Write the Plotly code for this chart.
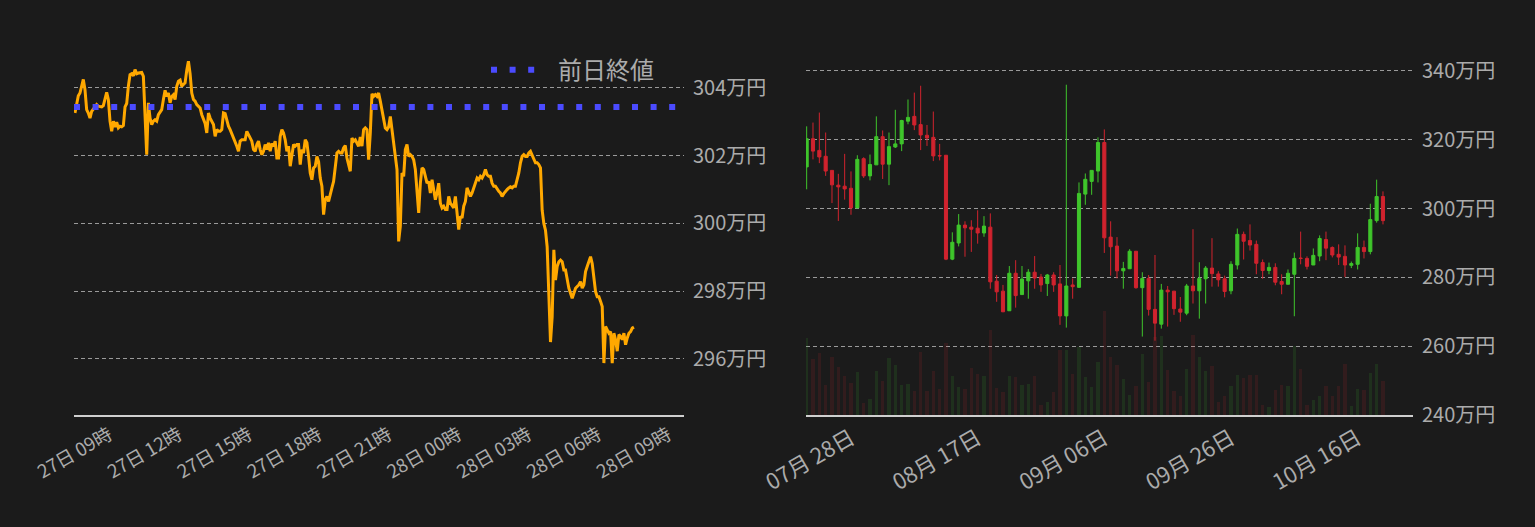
import numpy as np
import pandas as pd
import plotly.graph_objects as go

# ---------------- data ----------------
# intraday price (万円), 24h window
intraday_start = "2020-10-27 07:32"
intraday_end = "2020-10-28 07:32"
intraday_prices = [
    303.26, 303.56, 303.77, 303.85, 304.05, 304.25, 303.95, 303.36, 303.26, 303.11,
    303.31, 303.38, 303.46, 303.51, 303.46, 303.44, 303.44, 303.48, 303.66, 303.87,
    303.66, 303.02, 302.72, 303.02, 302.85, 302.99, 302.82, 302.87, 302.85, 302.89,
    303.44, 303.54, 304.05, 304.39, 304.42, 304.36, 304.54, 304.42, 304.44, 304.46,
    304.46, 304.34, 303.16, 302.03, 303.56, 303.11, 302.92, 303.02, 303.06, 303.02,
    303.21, 303.31, 303.36, 303.66, 303.93, 303.75, 303.85, 303.56, 303.75, 303.80,
    303.66, 304.05, 304.20, 304.23, 304.05, 304.10, 304.15, 304.52, 304.79, 304.42,
    303.85, 303.66, 303.61, 303.51, 303.46, 303.41, 303.21, 303.06, 302.95, 302.67,
    303.26, 303.11, 303.02, 302.92, 302.57, 302.77, 302.72, 302.72, 302.77, 303.26,
    303.24, 303.02, 302.87, 302.77, 302.65, 302.52, 302.43, 302.28, 302.13, 302.43,
    302.47, 302.47, 302.47, 302.72, 302.62, 302.52, 302.43, 302.18, 302.13, 302.33,
    302.43, 302.18, 302.03, 302.13, 302.33, 302.18, 302.38, 302.13, 302.36, 302.28,
    302.43, 301.93, 301.93, 302.57, 302.77, 302.67, 302.47, 302.13, 302.28, 301.69,
    302.08, 302.33, 302.28, 302.33, 302.33, 301.74, 302.18, 302.08, 302.47, 302.38,
    301.98, 301.49, 301.29, 301.64, 301.69, 301.98, 301.83, 301.34, 301.10, 300.26,
    300.70, 300.80, 300.65, 300.90, 301.05, 301.24, 301.59, 302.08, 302.13, 302.08,
    302.08, 302.23, 302.30, 301.93, 301.74, 301.54, 302.52, 302.43, 302.47, 302.38,
    302.28, 302.55, 302.28, 302.77, 302.82, 302.77, 301.88, 302.67, 303.83, 303.75,
    303.80, 303.75, 303.85, 303.61, 303.36, 303.16, 302.82, 302.77, 302.85, 303.16,
    302.77, 302.28, 301.98, 301.59, 299.47, 299.92, 301.49, 301.39, 302.18, 302.33,
    301.98, 302.03, 301.98, 301.88, 301.59, 300.80, 300.31, 301.19, 301.64, 301.59,
    301.34, 301.19, 301.24, 300.90, 301.29, 301.00, 300.70, 300.90, 301.19, 300.60,
    300.46, 300.51, 300.41, 300.41, 300.80, 300.60, 300.51, 300.46, 300.80, 300.31,
    299.82, 300.21, 300.16, 300.51, 300.65, 301.05, 300.90, 300.80, 300.90, 301.05,
    301.24, 301.34, 301.29, 301.39, 301.34, 301.44, 301.59, 301.44, 301.39, 301.39,
    301.19, 301.10, 301.10, 301.00, 300.95, 300.90, 300.80, 300.88, 300.95, 301.00,
    301.05, 301.08, 301.05, 301.10, 301.10, 301.29, 301.49, 301.79, 301.98, 302.03,
    301.98, 301.98, 302.08, 302.13, 302.03, 301.88, 301.79, 301.79, 301.74, 301.64,
    300.39, 300.00, 299.80, 299.31, 297.94, 296.50, 297.25, 299.22, 298.33, 298.73,
    298.87, 298.92, 298.87, 298.63, 298.63, 298.33, 298.09, 297.94, 297.79, 297.94,
    298.09, 298.14, 298.19, 298.28, 298.09, 298.19, 298.58, 298.73, 298.87, 299.02,
    298.82, 298.33, 297.99, 297.84, 297.84, 297.70, 297.55, 295.88, 296.96, 296.86,
    296.76, 296.81, 295.88, 296.76, 296.57, 296.23, 296.72, 296.67, 296.57, 296.76,
    296.42, 296.62, 296.76, 296.81, 296.91, 296.94,
]
prev_close = 303.44
prev_close_label = "\u2002前日終値"
intraday_range = ["2020-10-27 07:29:30", "2020-10-28 09:41"]
intraday_ticks = pd.date_range("2020-10-27 09:00", "2020-10-28 09:00", freq="3h")
intraday_yticks = [296, 298, 300, 302, 304]

# daily candles (万円)
candle_start = "2020-07-21"
opens = [
    312.1, 320.3, 316.9, 315.2, 311.1, 306.8, 306.5, 305.9, 300.2, 314.5,
    309.5, 312.7, 320.9, 312.9, 317.9, 318.8, 325.4, 326.8, 324.4, 321.3,
    320.7, 315.4, 315.5, 285.3, 290.0, 295.2, 294.6, 294.3, 292.9, 294.6,
    278.9, 276.0, 270.3, 281.2, 275.0, 279.0, 281.5, 280.1, 278.2, 280.7,
    278.1, 268.8, 277.8, 277.1, 304.2, 307.9, 310.9, 319.2, 291.7, 289.1,
    281.9, 282.5, 287.6, 277.0, 279.7, 270.7, 266.4, 276.3, 276.0, 270.8,
    269.6, 277.5, 276.1, 279.6, 282.7, 281.0, 279.6, 276.1, 283.6, 292.5,
    290.7, 289.6, 284.3, 282.0, 282.9, 278.8, 278.0, 280.9, 285.6, 285.5,
    283.6, 286.2, 291.0, 288.7, 286.7, 286.1, 283.5, 283.8, 288.7, 287.5,
    296.5, 303.5,
]
highs = [
    323.9, 325.0, 327.9, 322.1, 311.1, 310.1, 315.9, 310.8, 315.5, 314.9,
    315.7, 326.8, 322.7, 322.1, 328.7, 325.8, 331.7, 333.7, 335.7, 324.3,
    328.2, 318.8, 315.5, 293.1, 298.4, 296.3, 296.6, 299.5, 297.8, 298.6,
    280.7, 277.8, 283.3, 285.0, 283.3, 282.4, 286.2, 281.0, 281.0, 281.5,
    283.6, 336.0, 279.7, 307.6, 310.2, 311.1, 320.7, 323.0, 296.3, 291.7,
    284.5, 288.2, 287.6, 281.5, 280.7, 286.5, 278.1, 277.5, 276.0, 274.3,
    278.1, 294.0, 284.4, 283.3, 291.4, 281.8, 280.5, 284.7, 294.2, 293.3,
    295.4, 290.7, 285.2, 284.3, 284.1, 280.9, 282.3, 287.2, 293.3, 286.1,
    288.4, 292.2, 293.3, 289.0, 289.6, 289.3, 284.6, 292.8, 290.7, 301.4,
    308.4, 305.0,
]
lows = [
    305.6, 314.3, 313.2, 309.5, 301.6, 296.4, 302.6, 298.2, 300.2, 308.9,
    308.2, 312.7, 308.6, 306.8, 317.6, 316.7, 324.5, 322.8, 317.0, 318.2,
    313.8, 314.0, 285.0, 285.0, 289.0, 286.0, 287.4, 289.8, 291.8, 276.7,
    272.9, 269.9, 270.3, 271.2, 275.0, 273.8, 276.7, 275.8, 274.6, 275.8,
    266.2, 265.4, 273.8, 276.9, 301.1, 304.0, 307.6, 287.1, 280.5, 279.7,
    276.7, 282.5, 276.7, 262.8, 268.9, 261.6, 265.1, 265.7, 269.1, 267.1,
    269.0, 272.4, 268.0, 272.4, 277.3, 277.3, 274.2, 275.1, 282.3, 285.2,
    287.8, 280.9, 279.6, 280.9, 277.7, 275.1, 278.0, 268.7, 283.8, 282.3,
    283.6, 284.7, 285.0, 285.8, 283.6, 280.1, 282.7, 282.3, 285.5, 286.7,
    295.9, 295.4,
]
closes = [
    320.3, 316.7, 315.0, 310.9, 306.9, 306.3, 305.7, 300.2, 314.3, 309.5,
    312.8, 320.9, 312.9, 318.0, 318.8, 325.6, 326.5, 324.3, 321.4, 320.5,
    315.3, 315.3, 285.3, 290.2, 295.2, 294.4, 294.0, 292.9, 294.9, 278.7,
    275.8, 270.0, 281.2, 274.7, 279.5, 281.5, 279.8, 277.8, 280.7, 277.8,
    268.8, 277.5, 277.3, 304.4, 308.5, 311.1, 319.2, 291.5, 288.9, 281.9,
    282.6, 287.6, 277.0, 279.7, 270.7, 266.7, 276.3, 275.8, 270.9, 269.9,
    277.5, 276.1, 279.7, 282.7, 281.1, 279.3, 275.9, 283.8, 292.5, 290.5,
    289.4, 284.1, 282.0, 282.9, 278.6, 278.0, 281.2, 285.5, 285.5, 283.2,
    286.4, 291.3, 288.5, 286.5, 285.9, 283.6, 284.0, 288.7, 287.5, 296.8,
    303.5, 296.5,
]
volumes = [
    77.3, 56.0, 62.3, 30.0, 58.0, 48.0, 39.3, 32.0, 43.0, 12.0,
    16.3, 44.3, 34.3, 56.7, 49.7, 30.0, 31.3, 24.0, 63.3, 24.0,
    44.3, 26.3, 72.3, 38.7, 28.3, 26.3, 47.0, 41.0, 38.7, 85.3,
    27.3, 23.3, 38.7, 38.0, 30.0, 31.0, 38.7, 10.0, 13.0, 23.0,
    65.0, 65.3, 41.0, 68.0, 37.7, 28.3, 53.3, 104.0, 58.3, 50.0,
    36.0, 20.0, 29.0, 61.0, 33.3, 78.0, 79.0, 45.0, 24.0, 19.0,
    46.0, 80.0, 58.0, 44.3, 49.3, 13.3, 19.0, 29.0, 40.0, 37.0,
    40.0, 40.0, 10.0, 8.0, 25.3, 30.0, 29.0, 69.0, 46.0, 10.0,
    15.0, 19.0, 29.0, 19.0, 29.0, 51.0, 9.0, 26.0, 25.3, 42.0,
    51.0, 34.0,
]
daily_range = ["2020-07-20 21:30", "2020-10-24 17:45"]
daily_ticks = ["2020-07-28", "2020-08-17", "2020-09-06", "2020-09-26", "2020-10-16"]
daily_yticks = [240, 260, 280, 300, 320, 340]

# ---------------- style ----------------
BG = "#1b1b1b"
ORANGE = "#ffa800"
BLUE = "#4b4bff"
UP = "#3fc52b"
DOWN = "#d0232e"
UP_VOL = "rgba(63,197,43,0.13)"
DOWN_VOL = "rgba(208,35,46,0.13)"
TXT = "#ababab"
GRID = "#9a9a9a"
FONT = "Noto Sans CJK JP"

times = pd.date_range(intraday_start, intraday_end, periods=len(intraday_prices))
days = pd.date_range(candle_start, periods=len(opens), freq="D")
vol_colors = [UP_VOL if c >= o else DOWN_VOL for o, c in zip(opens, closes)]

fig = go.Figure()

fig.add_trace(go.Scatter(
    x=times, y=intraday_prices, mode="lines",
    line=dict(color=ORANGE, width=3), showlegend=False,
    xaxis="x", yaxis="y", hoverinfo="skip",
))
fig.add_trace(go.Scatter(
    x=[pd.Timestamp(intraday_range[0]), pd.Timestamp(intraday_range[1])],
    y=[prev_close, prev_close], mode="lines", name=prev_close_label,
    line=dict(color=BLUE, width=6, dash="6px,12.6px"),
    xaxis="x", yaxis="y", hoverinfo="skip",
))

fig.add_trace(go.Bar(
    x=days, y=volumes, marker=dict(color=vol_colors, line=dict(width=0)),
    width=0.5 * 86400000, showlegend=False, xaxis="x2", yaxis="y3",
    hoverinfo="skip",
))
fig.add_trace(go.Candlestick(
    x=days, open=opens, high=highs, low=lows, close=closes,
    increasing=dict(line=dict(color=UP, width=1), fillcolor=UP),
    decreasing=dict(line=dict(color=DOWN, width=1), fillcolor=DOWN),
    whiskerwidth=0, showlegend=False, xaxis="x2", yaxis="y2",
    hoverinfo="skip",
))

axis_common = dict(showline=True, linecolor="#cfcfcf", linewidth=2, showgrid=False,
                   zeroline=False, ticks="", tickangle=-30, automargin=False)
y_common = dict(side="right", showline=False, zeroline=False, showgrid=True,
                gridcolor=GRID, gridwidth=1, griddash="4px,3px", ticks="",
                automargin=False, ticklabelstandoff=8,
                tickfont=dict(size=20, color=TXT, family=FONT))

fig.update_layout(
    width=1535, height=527,
    paper_bgcolor=BG, plot_bgcolor=BG,
    margin=dict(l=0, r=0, t=30, b=112, autoexpand=False),
    font=dict(family=FONT, color=TXT),
    xaxis=dict(domain=[74 / 1535, 684 / 1535], type="date",
               range=intraday_range, tickvals=intraday_ticks,
               tickformat="%d日 %H時", tickfont=dict(size=18.5, color=TXT, family=FONT),
               anchor="y", **axis_common),
    yaxis=dict(domain=[0, 1], range=[294.347, 305.71], tickvals=intraday_yticks,
               ticktext=[f"{v}万円" for v in intraday_yticks],
               anchor="x", **y_common),
    xaxis2=dict(domain=[806 / 1535, 1413 / 1535], type="date",
                range=daily_range, tickvals=daily_ticks,
                tickformat="%m月 %d日", tickfont=dict(size=22, color=TXT, family=FONT),
                rangeslider=dict(visible=False), anchor="y2", **axis_common),
    yaxis2=dict(domain=[0, 1], range=[240, 351.9], tickvals=daily_yticks,
                ticktext=[f"{v}万円" for v in daily_yticks],
                anchor="x2", **y_common),
    yaxis3=dict(domain=[0, 1], range=[0, 385], overlaying="y2", anchor="x2",
                visible=False, showgrid=False, automargin=False),
    showlegend=True,
    legend=dict(x=486 / 1535, y=0.896, xanchor="left", yanchor="middle",
                bgcolor="rgba(0,0,0,0)", font=dict(size=24, color=TXT, family=FONT),
                itemwidth=50),
    bargap=0,
)

fig.write_html("out.html", config={"displayModeBar": False},
               post_script="document.body.style.margin='0';")
